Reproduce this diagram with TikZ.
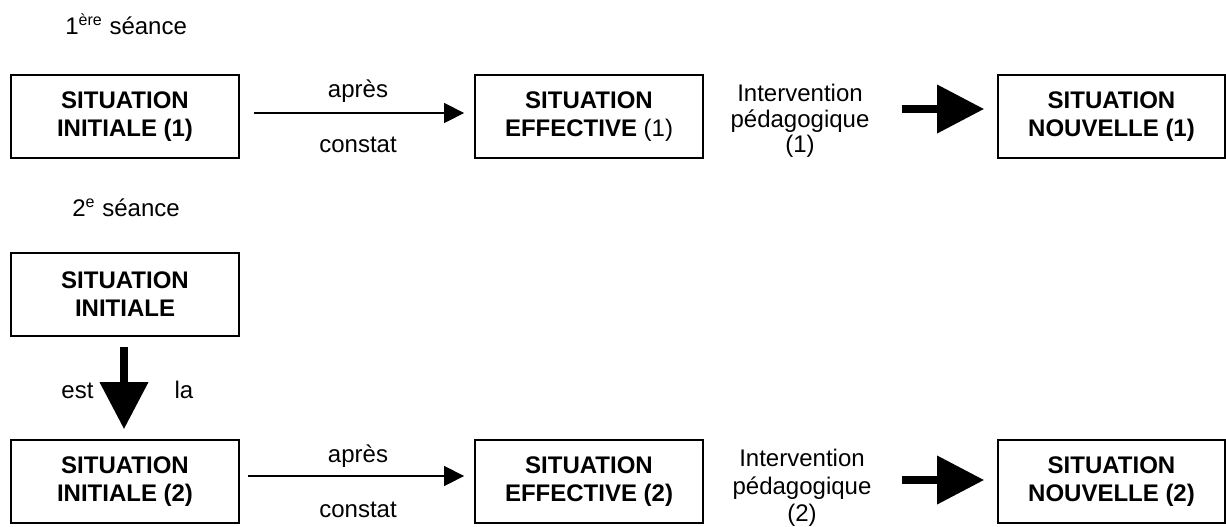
\documentclass[tikz,border=0pt]{standalone}
\usepackage{fontspec}
\setmainfont{Liberation Sans}
\usetikzlibrary{arrows.meta,calc}
\tikzset{
  sbox/.style={draw, line width=0.9pt, minimum width=114pt, minimum height=41.5pt,
    inner sep=0pt, align=center, font=\fontsize{12}{14}\selectfont\bfseries},
  lbl/.style={inner sep=0pt, font=\fontsize{12}{14}\selectfont},
  thinarrow/.style={line width=0.7pt, -{Triangle[length=10pt,width=10pt]}},
  bigarrow/.style={line width=3.8pt, -{Triangle[length=23.5pt,width=23.5pt]}},
}
\begin{document}
\begin{tikzpicture}[x=0.5pt,y=-0.5pt]
\useasboundingbox (0,0) rectangle (1226,526);
% row 1
\node[lbl, anchor=base west] (t1) at (65,34) {1\textsuperscript{ère} séance};
\node[sbox] (si1) at (125,116.5) {SITUATION\\INITIALE (1)};
\node[sbox] (se1) at (589,116.5) {SITUATION\\EFFECTIVE \textmd{(1)}};
\node[sbox, minimum width=113.5pt] (sn1) at (1111.5,116.5) {SITUATION\\NOUVELLE (1)};
\node[lbl, anchor=base] (ap1) at (358,97) {après};
\node[lbl, anchor=base] (co1) at (358,152) {constat};
\node[lbl, align=center, font=\fontsize{12}{12.8}\selectfont] (iv1) at (800,121) {Intervention\\pédagogique\\(1)};
\draw[thinarrow] ($(si1.east)+(14,-3.5)$) -- ($(se1.west)+(-10,-3.5)$);
\coordinate (b1) at (902,109);
\draw[bigarrow] (b1) -- ($(sn1.west)+(-13,-7.5)$);
% row 2
\node[lbl, anchor=base west] (t2) at (72,216) {2\textsuperscript{e} séance};
\node[sbox] (si0) at (125,294.5) {SITUATION\\INITIALE};
\node[lbl, anchor=base] (est) at (77.5,398) {est};
\node[lbl, anchor=base] (la) at (184,398) {la};
\node[sbox] (si2) at (125,481.5) {SITUATION\\INITIALE (2)};
\node[sbox] (se2) at (589,481.5) {SITUATION\\EFFECTIVE (2)};
\node[sbox, minimum width=113.5pt] (sn2) at (1111.5,481.5) {SITUATION\\NOUVELLE (2)};
\node[lbl, anchor=base] (ap2) at (358,462) {après};
\node[lbl, anchor=base] (co2) at (358,517) {constat};
\node[lbl, align=center, font=\fontsize{12}{13.8}\selectfont] (iv2) at (802,488) {Intervention\\pédagogique\\(2)};
\draw[bigarrow] ($(si0.south)+(-1,10)$) -- ($(si2.north)+(-1,-10)$);
\draw[thinarrow] ($(si2.east)+(8,-5.5)$) -- ($(se2.west)+(-10,-5.5)$);
\coordinate (b2) at (902,480);
\draw[bigarrow] (b2) -- ($(sn2.west)+(-13,-1.5)$);
\end{tikzpicture}
\end{document}
